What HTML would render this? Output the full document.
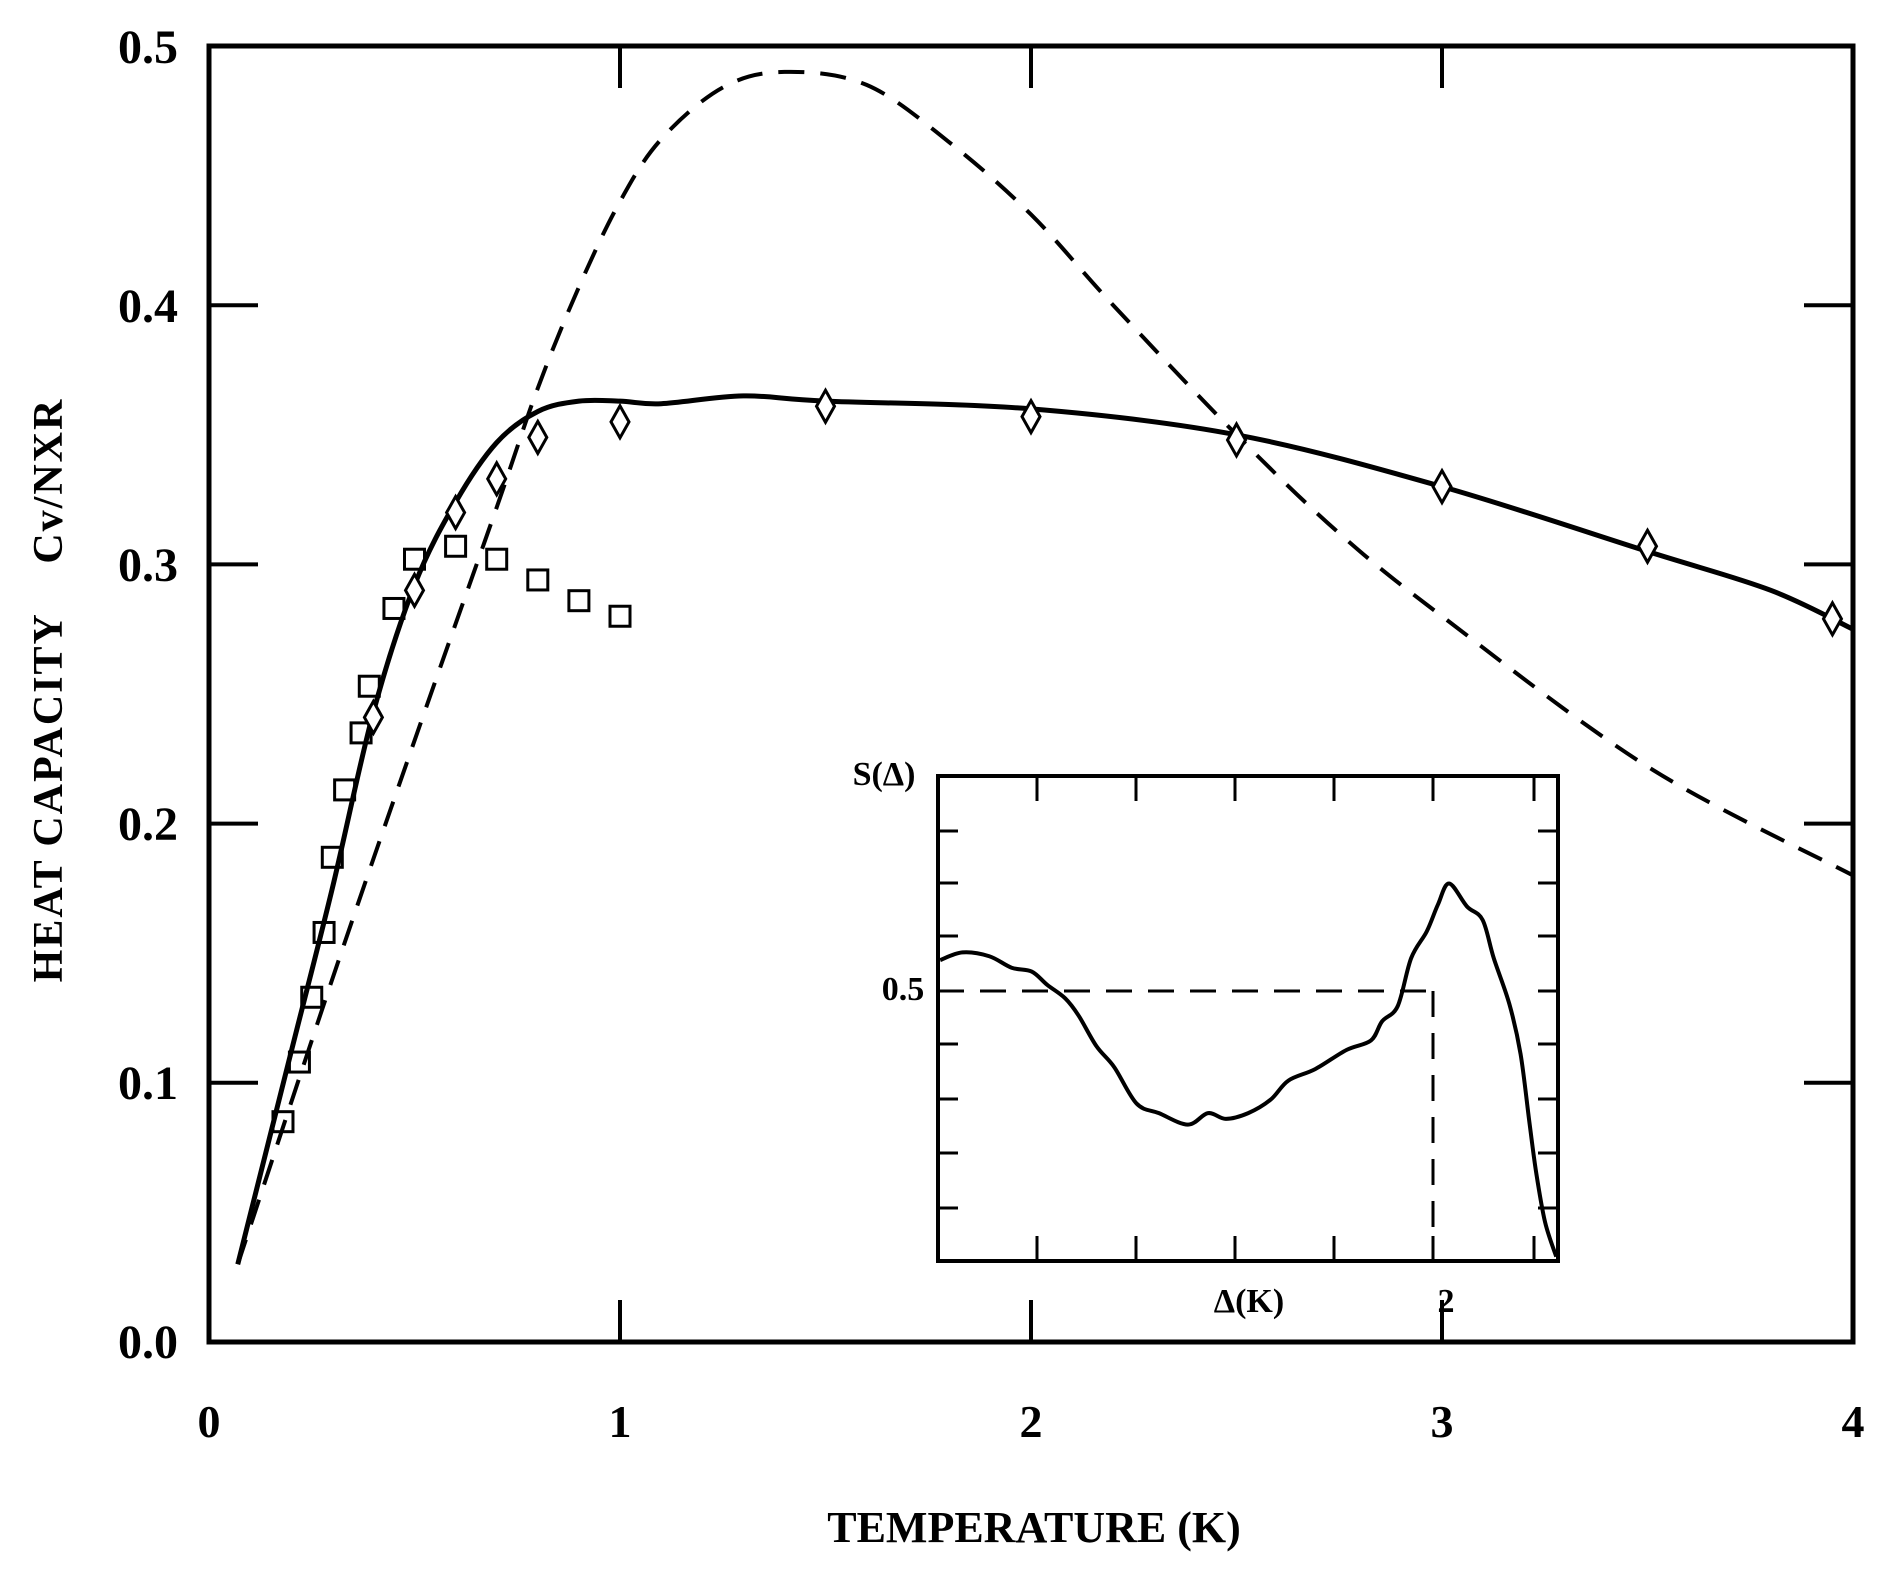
<!DOCTYPE html>
<html><head><meta charset="utf-8"><style>
html,body{margin:0;padding:0;background:#fff;}
svg{display:block}
text{font-family:"Liberation Serif",serif;font-weight:bold;fill:#000}
</style></head><body>
<svg id="s" width="1883" height="1570" viewBox="0 0 1883 1570" xmlns="http://www.w3.org/2000/svg">
<rect x="0" y="0" width="1883" height="1570" fill="#fff"/>
<g id="g" fill="none" stroke="#000"></g>
<g font-size="48" text-anchor="end">
<text x="178" y="1358">0.0</text>
<text x="178" y="1099">0.1</text>
<text x="178" y="840">0.2</text>
<text x="178" y="581">0.3</text>
<text x="178" y="322">0.4</text>
<text x="178" y="63">0.5</text>
</g>
<g font-size="46" text-anchor="middle">
<text x="209" y="1437">0</text>
<text x="620" y="1437">1</text>
<text x="1031" y="1437">2</text>
<text x="1442" y="1437">3</text>
<text x="1853" y="1437">4</text>
<text x="1034" y="1542" font-size="44">TEMPERATURE (K)</text>
<text transform="translate(62,690) rotate(-90)" font-size="42" letter-spacing="2" style="white-space:pre">HEAT CAPACITY    Cv/NXR</text>
<text x="884" y="785" font-size="34">S(Δ)</text>
<text x="903" y="1000" font-size="34">0.5</text>
<text x="1249" y="1312" font-size="34">Δ(K)</text>
<text x="1446" y="1312" font-size="34">2</text>
</g>
</svg>
<script>
var g=document.getElementById('g');
function X(t){return 209+t*411}
function Y(v){return 1342-v*2592}
function el(n,a){var e=document.createElementNS('http://www.w3.org/2000/svg',n);for(var k in a)e.setAttribute(k,a[k]);g.appendChild(e);return e}
function smooth(p){var d='M'+p[0][0]+','+p[0][1];for(var i=0;i<p.length-1;i++){var p0=p[i-1]||p[i],p1=p[i],p2=p[i+1],p3=p[i+2]||p2;
d+=' C'+(p1[0]+(p2[0]-p0[0])/6)+','+(p1[1]+(p2[1]-p0[1])/6)+' '+(p2[0]-(p3[0]-p1[0])/6)+','+(p2[1]-(p3[1]-p1[1])/6)+' '+p2[0]+','+p2[1];}return d}
function tv(a){return a.map(function(q){return [X(q[0]),Y(q[1])]})}
el('rect',{x:209,y:46,width:1644,height:1296,'stroke-width':5});
for(var i=1;i<=3;i++){el('line',{x1:X(i),y1:1342,x2:X(i),y2:1300,'stroke-width':4});el('line',{x1:X(i),y1:46,x2:X(i),y2:88,'stroke-width':4});}
for(var i=1;i<=4;i++){var y=Y(i/10);el('line',{x1:209,y1:y,x2:258,y2:y,'stroke-width':4});el('line',{x1:1853,y1:y,x2:1804,y2:y,'stroke-width':4});}
var sol=[[0.07,0.03],[0.2,0.112],[0.3,0.175],[0.4,0.243],[0.5,0.292],[0.6,0.324],[0.7,0.347],[0.8,0.359],[0.9,0.363],[1.0,0.363],[1.1,0.362],[1.3,0.365],[1.5,0.363],[2,0.36],[2.5,0.35],[3,0.33],[3.5,0.305],[3.8,0.29],[4,0.275]];
el('path',{d:smooth(tv(sol)),'stroke-width':5});
var da=[[0.07,0.03],[0.3,0.14],[0.5,0.232],[0.7,0.322],[0.8,0.368],[0.9,0.407],[1.0,0.44],[1.1,0.464],[1.25,0.484],[1.4,0.49],[1.6,0.485],[1.8,0.463],[2.0,0.435],[2.2,0.4],[2.5,0.35],[2.75,0.312],[3.0,0.28],[3.5,0.222],[4,0.18]];
el('path',{d:smooth(tv(da)),'stroke-width':4,'stroke-dasharray':'26 16'});
var sq=[[0.18,0.085],[0.22,0.108],[0.25,0.133],[0.28,0.158],[0.3,0.187],[0.33,0.213],[0.37,0.235],[0.39,0.253],[0.45,0.283],[0.5,0.302],[0.6,0.307],[0.7,0.302],[0.8,0.294],[0.9,0.286],[1.0,0.28]];
sq.forEach(function(q){el('rect',{x:X(q[0])-10,y:Y(q[1])-10,width:20,height:20,'stroke-width':3})});
var dm=[[0.4,0.241],[0.5,0.29],[0.6,0.32],[0.7,0.333],[0.8,0.349],[1.0,0.355],[1.5,0.361],[2.0,0.357],[2.5,0.348],[3.0,0.33],[3.5,0.307],[3.95,0.279]];
dm.forEach(function(q){var x=X(q[0]),y=Y(q[1]);el('path',{d:'M'+x+','+(y-16)+' L'+(x+9)+','+y+' L'+x+','+(y+16)+' L'+(x-9)+','+y+' Z','stroke-width':3,fill:'#fff'})});
el('rect',{x:938,y:776,width:620,height:485,'stroke-width':4,fill:'#fff'});
[1037,1136,1235,1334,1433,1534].forEach(function(x){el('line',{x1:x,y1:1261,x2:x,y2:1236,'stroke-width':3});el('line',{x1:x,y1:776,x2:x,y2:801,'stroke-width':3})});
[831,883,936,991,1044,1099,1153,1208].forEach(function(y){el('line',{x1:938,y1:y,x2:958,y2:y,'stroke-width':3});el('line',{x1:1558,y1:y,x2:1538,y2:y,'stroke-width':3})});
el('path',{d:'M938,991 L1436,991 M1433,991 L1433,1261','stroke-width':3,'stroke-dasharray':'26 16'});
var ic=[[90,575],[140,555],[200,565],[250,595],[295,605],[330,640],[370,675],[400,720],[440,800],[480,855],[530,950],[580,975],[645,1005],[690,975],[730,990],[780,975],[830,940],[870,890],[930,860],[1000,810],[1055,785],[1080,735],[1115,695],[1145,570],[1180,500],[1205,430],[1230,375],[1270,435],[1305,470],[1330,570],[1365,690],[1390,820],[1410,1000],[1425,1130],[1445,1260],[1470,1350]].map(function(q){return [900+q[0]/2.24,740+q[1]/2.613]});
el('path',{d:smooth(ic),'stroke-width':4});
</script>
</body></html>
